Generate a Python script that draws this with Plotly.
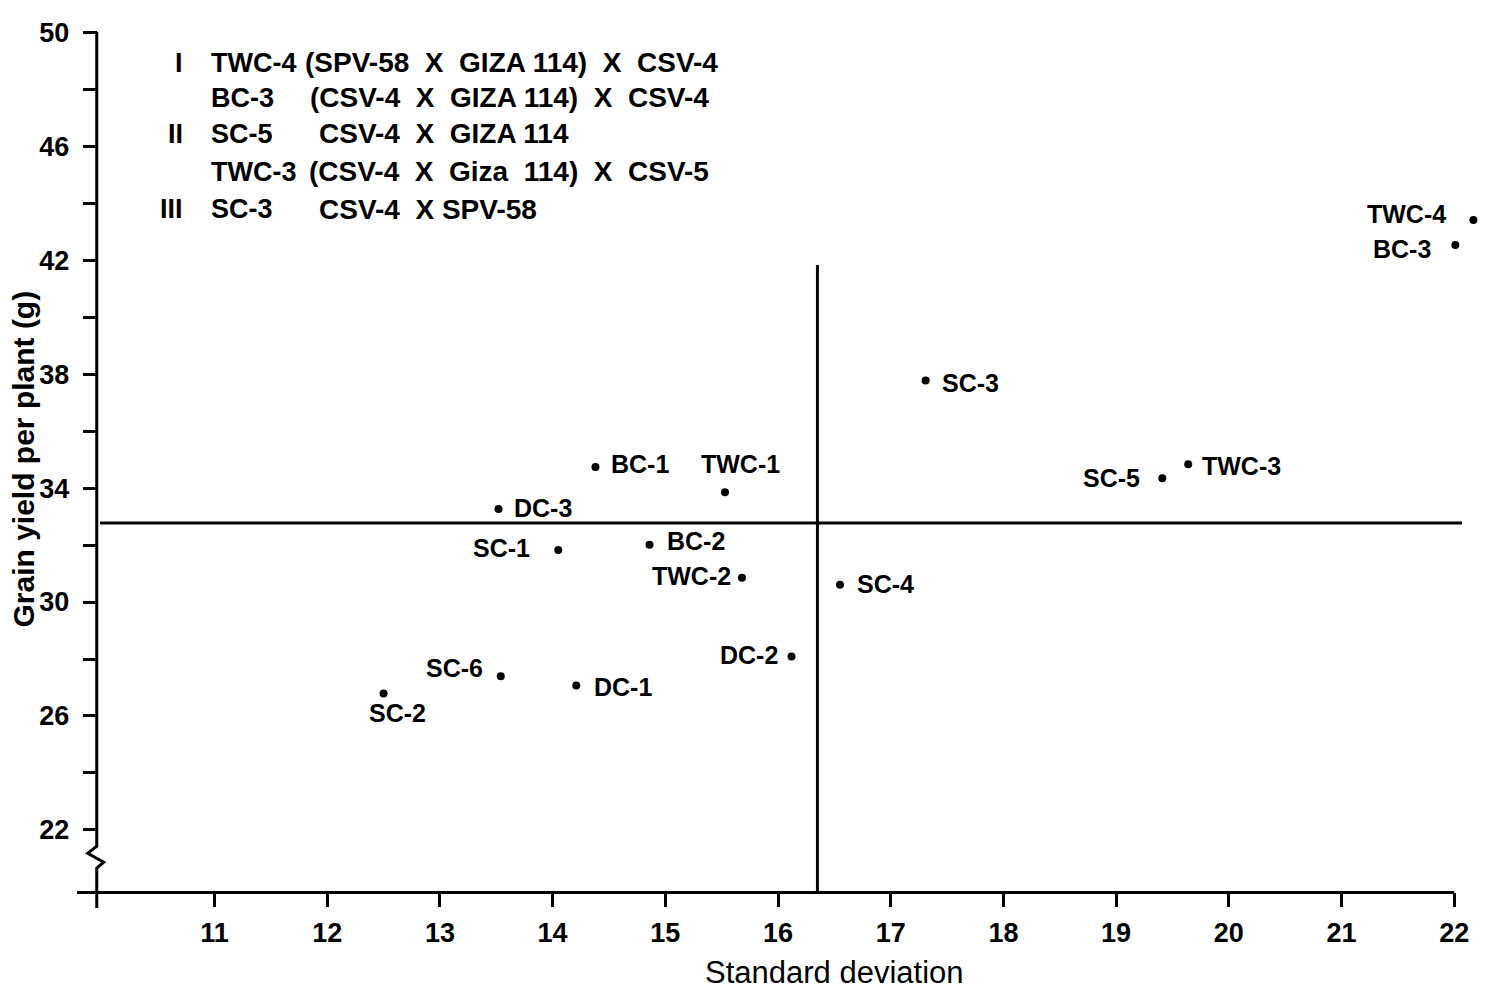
import plotly.graph_objects as go

# ---------------- data ----------------
names = ["TWC-4", "BC-3", "SC-5", "TWC-3", "SC-3", "SC-4", "BC-1", "TWC-1",
         "DC-3", "SC-1", "BC-2", "TWC-2", "DC-2", "SC-6", "DC-1", "SC-2"]
std_dev = [22.17, 22.01, 19.41, 19.64, 17.31, 16.55, 14.38, 15.53,
           13.52, 14.05, 14.86, 15.68, 16.12, 13.54, 14.21, 12.50]
grain_yield = [43.42, 42.54, 34.35, 34.84, 37.78, 30.61, 34.74, 33.86,
               33.27, 31.83, 32.01, 30.85, 28.09, 27.39, 27.07, 26.79]

mean_yield = 32.78
mean_sd = 16.35

x_tickvals = [11, 12, 13, 14, 15, 16, 17, 18, 19, 20, 21, 22]
y_tickvals = [22, 24, 26, 28, 30, 32, 34, 36, 38, 40, 42, 44, 46, 48, 50]
y_ticktext = ["22", "", "26", "", "30", "", "34", "", "38", "", "42", "", "46", "", "50"]

legend_group = ["I", "", "II", "", "III"]
legend_code = ["TWC-4", "BC-3", "SC-5", "TWC-3", "SC-3"]
legend_cross = ["(SPV-58\u00a0 X\u00a0 GIZA 114)\u00a0 X\u00a0 CSV-4",
                "(CSV-4\u00a0 X\u00a0 GIZA 114)\u00a0 X\u00a0 CSV-4",
                "CSV-4\u00a0 X\u00a0 GIZA 114",
                "(CSV-4\u00a0 X\u00a0 Giza\u00a0 114)\u00a0 X\u00a0 CSV-5",
                "CSV-4\u00a0 X SPV-58"]

# ---------------- layout geometry ----------------
W, H = 1490, 995
OFF = 8                      # page offset of the figure inside the browser window
XR = [9.7, 22.3]
YR = [19.15, 50.3]
PW, PH = 1420, 890
ML = 68 - OFF
MT = 21 - OFF
MR = W - ML - PW
MB = H - MT - PH


def px2x(p):
    return XR[0] + (p - OFF - ML) / PW * (XR[1] - XR[0])


def py2y(p):
    return YR[1] - (p - OFF - MT) / PH * (YR[1] - YR[0])


def px2paper(p):
    return (p - OFF - ML) / PW


def py2paper(p):
    return 1 - (p - OFF - MT) / PH


Y_AXIS_X = 9.955
X_AXIS_Y = 19.8

FONT = "Arial, Liberation Sans, sans-serif"
BLACK = "#000000"

fig = go.Figure()
fig.add_trace(go.Scatter(
    x=std_dev, y=grain_yield, mode="markers",
    marker=dict(size=8, color=BLACK), cliponaxis=False,
    hovertext=names, showlegend=False))

# label offsets: (xanchor, xshift, yshift)
label_pos = {
    "TWC-4": ("right", -25, 6), "BC-3": ("right", -22, -4),
    "SC-5": ("right", -20, 0), "TWC-3": ("left", 12, -2),
    "SC-3": ("left", 14, -2), "SC-4": ("left", 15, 1),
    "BC-1": ("left", 14, 3), "TWC-1": ("center", 15, 28),
    "DC-3": ("left", 13, 1), "SC-1": ("right", -26, 2),
    "BC-2": ("left", 15, 4), "TWC-2": ("right", -9, 2),
    "DC-2": ("right", -12, 1), "SC-6": ("right", -16, 8),
    "DC-1": ("left", 16, -2), "SC-2": ("center", 14, -20),
}
annotations = []
for n, xv, yv in zip(names, std_dev, grain_yield):
    xa, xs, ys = label_pos[n]
    annotations.append(dict(x=xv, y=yv, xref="x", yref="y", text=n, showarrow=False,
                            xanchor=xa, yanchor="middle", xshift=xs, yshift=ys,
                            font=dict(family=FONT, size=25, color=BLACK, weight="bold")))

# legend text block
rows_y = [60, 95, 131, 169, 207]
rest_x = [303, 308, 317, 307, 317]
for i in range(5):
    yv = py2y(rows_y[i])
    if legend_group[i]:
        annotations.append(dict(x=px2x(185), y=yv, xref="x", yref="y", text=legend_group[i],
                                showarrow=False, xanchor="right", yanchor="middle",
                                font=dict(family=FONT, size=27, color=BLACK, weight="bold")))
    annotations.append(dict(x=px2x(209), y=yv, xref="x", yref="y", text=legend_code[i],
                            showarrow=False, xanchor="left", yanchor="middle",
                            font=dict(family=FONT, size=27, color=BLACK, weight="bold")))
    annotations.append(dict(x=px2x(rest_x[i]), y=yv, xref="x", yref="y", text=legend_cross[i],
                            showarrow=False, xanchor="left", yanchor="middle",
                            font=dict(family=FONT, size=28, color=BLACK, weight="bold")))

# axis titles
annotations.append(dict(x=px2paper(835), y=py2paper(973), xref="paper", yref="paper",
                        text="Standard deviation", showarrow=False,
                        xanchor="center", yanchor="middle",
                        font=dict(family=FONT, size=31, color=BLACK)))
annotations.append(dict(x=px2paper(24), y=py2paper(458), xref="paper", yref="paper",
                        text="Grain yield per plant (g)", showarrow=False, textangle=-90,
                        xanchor="center", yanchor="middle",
                        font=dict(family=FONT, size=30, color=BLACK, weight="bold")))

shapes = []
LW = 3
# x axis line
shapes.append(dict(type="line", xref="x", yref="y", x0=px2x(77), x1=22.0,
                   y0=X_AXIS_Y, y1=X_AXIS_Y, line=dict(color=BLACK, width=LW)))
# y axis line with break
brk = [(97, 908), (97, 868), (104, 862), (88, 853), (97, 846), (97, 29)]
path = "M " + " L ".join(f"{px2x(a) - (px2x(97) - Y_AXIS_X):.4f},{py2y(b):.4f}" for a, b in brk)
shapes.append(dict(type="path", xref="x", yref="y", path=path,
                   line=dict(color=BLACK, width=LW)))
# mean lines
shapes.append(dict(type="line", xref="x", yref="y", x0=px2x(100), x1=px2x(1462),
                   y0=mean_yield, y1=mean_yield, line=dict(color=BLACK, width=LW)))
shapes.append(dict(type="line", xref="x", yref="y", x0=mean_sd, x1=mean_sd,
                   y0=X_AXIS_Y, y1=41.84, line=dict(color=BLACK, width=LW)))

fig.update_layout(
    width=W, height=H,
    margin=dict(l=ML, r=MR, t=MT, b=MB),
    paper_bgcolor="white", plot_bgcolor="white",
    showlegend=False,
    annotations=annotations, shapes=shapes,
    xaxis=dict(range=XR, tickvals=x_tickvals, ticktext=[str(v) for v in x_tickvals],
               showgrid=False, zeroline=False, showline=False,
               ticks="outside", ticklen=14, tickwidth=3, tickcolor=BLACK,
               anchor="free", position=(X_AXIS_Y - YR[0]) / (YR[1] - YR[0]),
               ticklabelstandoff=2,
               tickfont=dict(family=FONT, size=27, color=BLACK, weight="bold")),
    yaxis=dict(range=YR, tickvals=y_tickvals, ticktext=y_ticktext,
               showgrid=False, zeroline=False, showline=False,
               ticks="outside", ticklen=14, tickwidth=3, tickcolor=BLACK,
               anchor="free", position=(Y_AXIS_X - XR[0]) / (XR[1] - XR[0]),
               ticklabelstandoff=8,
               tickfont=dict(family=FONT, size=27, color=BLACK, weight="bold")),
)

fig.write_html("out.html")
